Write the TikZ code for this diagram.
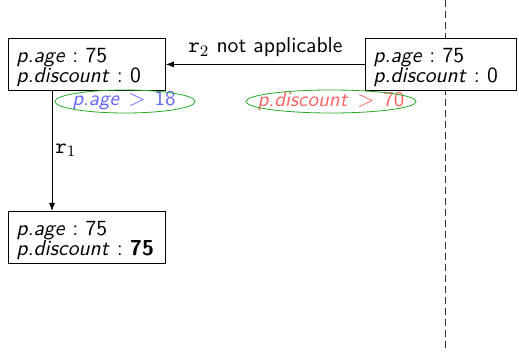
\documentclass[tikz,border=0pt]{standalone}
\usetikzlibrary{arrows.meta}
\renewcommand{\familydefault}{\sfdefault}
\frenchspacing
\definecolor{ovalgreen}{RGB}{40,170,40}
\definecolor{condblue}{RGB}{100,100,255}
\definecolor{condred}{RGB}{255,100,100}
\newcommand{\gtsep}{\hspace{4.5pt}$>$\hspace{4.5pt}}
\newcommand{\topstrut}{\rule{0pt}{10pt}}
\tikzset{
  state/.style={draw, fill=white, align=left, inner xsep=4pt, inner ysep=0pt,
    minimum height=26pt, font=\fontsize{10.8}{10}\selectfont, anchor=north west},
  cond/.style={inner sep=0pt, font=\fontsize{10.5}{10}\selectfont},
  oval/.style={draw=ovalgreen},
  trans/.style={-{Latex[length=4pt,width=3pt]}},
  lbl/.style={font=\fontsize{10.8}{10}\selectfont, inner sep=1pt},
  sep/.style={dash pattern=on 3.5pt off 2pt, draw=black!80}
}
\begin{document}
\begin{tikzpicture}[x=0.5pt,y=-0.5pt]
  \useasboundingbox (0,0) rectangle (519,352);
  % time separator
  \draw[sep] (445,0) -- (445,352);
  % states
  \node[state, text width=70.5pt] (a) at (8,38)
    {\topstrut\textit{p.age} : 75\\\textit{p.discount} : 0};
  \node[state, text width=67.5pt] (b) at (365,38)
    {\topstrut\textit{p.age} : 75\\\textit{p.discount} : 0};
  \node[state, text width=70.5pt] (c) at (8,211)
    {\topstrut\textit{p.age} : 75\\\textit{p.discount} : \textbf{75}};
  % conditions, each circled by a fixed-size oval
  \node[cond, text=condblue] (ca) at (124,101)
    {\textit{p.age}\gtsep18};
  \draw[oval] (125,101.5) ellipse [x radius=35pt, y radius=5.75pt];
  \node[cond, text=condred] (cb) at (331,101)
    {\textit{p.discount}\gtsep70};
  \draw[oval] (331,101.5) ellipse [x radius=42.5pt, y radius=5.75pt];
  % transitions
  \coordinate (aout) at (52,90);
  \coordinate (cin) at (52,211);
  \draw[trans] (b.west) -- (a.east)
    node[lbl, midway, above, yshift=2.5pt] {$\mathtt{r}_2$ not applicable};
  \draw[trans] (aout) -- (cin)
    node[lbl, midway, right, xshift=0.5pt] {$\mathtt{r}_1$};
\end{tikzpicture}
\end{document}
